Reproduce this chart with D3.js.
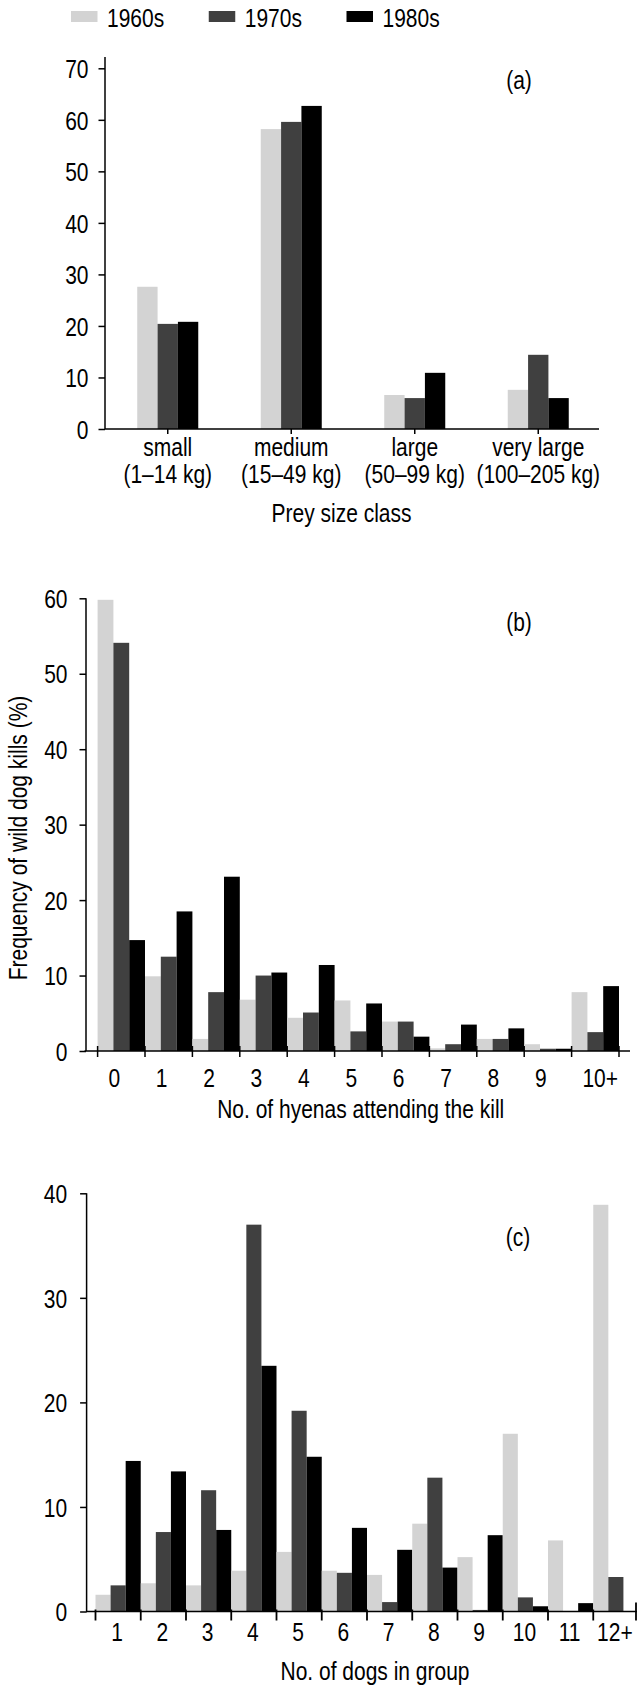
<!DOCTYPE html>
<html>
<head>
<meta charset="utf-8">
<script src="https://cdn.jsdelivr.net/npm/d3@7"></script>
<style>
  body { margin: 0; background: #fff; }
  svg { display: block; }
  text { fill: #000; }
</style>
</head>
<body>
<div id="chart"></div>
<script>
const decades = ["1960s", "1970s", "1980s"];
const colors = ["#d3d3d3", "#404040", "#000000"];

// (a) prey size class
const preyClasses = ["small", "medium", "large", "very large"];
const preyRanges = ["(1–14 kg)", "(15–49 kg)", "(50–99 kg)", "(100–205 kg)"];
const prey1960s = [27.6, 58.2, 6.6, 7.6];
const prey1970s = [20.4, 59.6, 6.0, 14.4];
const prey1980s = [20.8, 62.7, 10.9, 6.0];
const preyTicks = [0, 10, 20, 30, 40, 50, 60, 70];

// (b) hyenas attending the kill
const hyenaLabels = ["0", "1", "2", "3", "4", "5", "6", "7", "8", "9", "10+"];
const hyena1960s = [59.8, 9.9, 1.6, 6.8, 4.4, 6.7, 3.9, 0.35, 1.6, 0.9, 7.8];
const hyena1970s = [54.1, 12.5, 7.8, 10.0, 5.1, 2.6, 3.9, 0.9, 1.6, 0.3, 2.5];
const hyena1980s = [14.7, 18.5, 23.1, 10.4, 11.4, 6.3, 1.9, 3.5, 3.0, 0.3, 8.6];
const hyenaTicks = [0, 10, 20, 30, 40, 50, 60];

// (c) dogs in group
const dogLabels = ["1", "2", "3", "4", "5", "6", "7", "8", "9", "10", "11", "12+"];
const dog1960s = [1.6, 2.7, 2.5, 3.9, 5.7, 3.9, 3.5, 8.4, 5.2, 17.0, 6.8, 38.9];
const dog1970s = [2.5, 7.6, 11.6, 37.0, 19.2, 3.7, 0.9, 12.8, 0.15, 1.35, 0, 3.3];
const dog1980s = [14.4, 13.4, 7.8, 23.5, 14.8, 8.0, 5.9, 4.2, 7.3, 0.5, 0.8, 0];
const dogTicks = [0, 10, 20, 30, 40];

const width = 637;
const height = 1685;

// the original type is a narrow Helvetica: tall glyphs, Arial-21px widths
const fontSize = 25.6;
const squeeze = 21 / fontSize;

const svg = d3
  .select("#chart")
  .append("svg")
  .attr("width", width)
  .attr("height", height)
  .attr("font-family", '"Liberation Sans", Arial, Helvetica, sans-serif')
  .attr("font-size", fontSize);

// legend
const legendX = d3.scalePoint().domain(decades).range([71, 346.5]);
const legend = svg.append("g").attr("class", "legend");
legend
  .selectAll("rect")
  .data(decades)
  .join("rect")
  .attr("x", (d) => legendX(d))
  .attr("y", 11)
  .attr("width", 26.5)
  .attr("height", 11)
  .attr("fill", (d, i) => colors[i]);
legend
  .selectAll("text")
  .data(decades)
  .join("text")
  .attr("x", (d) => legendX(d) + 36)
  .attr("y", 26.5)
  .text((d) => d);

function seriesRows(cats, s1, s2, s3) {
  return cats.map((c, i) => ({ cat: c, values: [s1[i], s2[i], s3[i]] }));
}

function drawBars(g, rows, x0, x1, y) {
  g.append("g")
    .selectAll("g")
    .data(rows)
    .join("g")
    .attr("transform", (d) => `translate(${x0(d.cat)},0)`)
    .selectAll("rect")
    .data((d) => d.values.map((v, i) => ({ key: decades[i], v, i })))
    .join("rect")
    .attr("x", (d) => x1(d.key))
    .attr("width", x1.bandwidth())
    .attr("y", (d) => y(d.v))
    .attr("height", (d) => y(0) - y(d.v))
    .attr("fill", (d) => colors[d.i]);
}

function drawYAxis(g, y, ticks, axisX, top, padding) {
  const ax = g
    .append("g")
    .attr("transform", `translate(${axisX},0)`)
    .call(d3.axisLeft(y).tickValues(ticks).tickSize(6.5).tickPadding(padding));
  ax.attr("font-size", null).attr("font-family", null);
  ax.select(".domain").remove();
  ax.selectAll(".tick line").attr("stroke", "#000").attr("stroke-width", 1.5);
  ax.selectAll(".tick text").attr("dy", "0.36em");
  g.append("line")
    .attr("x1", axisX)
    .attr("x2", axisX)
    .attr("y1", top)
    .attr("y2", y(0))
    .attr("stroke", "#000")
    .attr("stroke-width", 1.5);
}

function drawXLine(g, y0, x1, x2) {
  g.append("line")
    .attr("x1", x1)
    .attr("x2", x2)
    .attr("y1", y0)
    .attr("y2", y0)
    .attr("stroke", "#000")
    .attr("stroke-width", 1.5);
}

// ---------- (a) ----------
const ga = svg.append("g").attr("class", "panel-a");
const ya = d3.scaleLinear().domain([0, 70]).range([429, 68.3]);
const xa = d3.scaleBand().domain(preyClasses).range([106, 600]);
const groupW = xa.bandwidth() * 0.494;
const xa1 = d3
  .scaleBand()
  .domain(decades)
  .range([(xa.bandwidth() - groupW) / 2, (xa.bandwidth() + groupW) / 2]);

drawBars(ga, seriesRows(preyClasses, prey1960s, prey1970s, prey1980s), xa, xa1, ya);
drawYAxis(ga, ya, preyTicks, 105, 57, 10);
drawXLine(ga, ya(0), 105, 599);

ga.append("g")
  .selectAll("line")
  .data(preyClasses)
  .join("line")
  .attr("x1", (d) => xa(d) + xa.bandwidth() / 2)
  .attr("x2", (d) => xa(d) + xa.bandwidth() / 2)
  .attr("y1", ya(0))
  .attr("y2", ya(0) + 5)
  .attr("stroke", "#000")
  .attr("stroke-width", 1.5);

// two-line category labels
const preyLab = ga
  .append("g")
  .attr("text-anchor", "middle")
  .selectAll("text")
  .data(preyClasses)
  .join("text")
  .attr("x", (d) => xa(d) + xa.bandwidth() / 2)
  .attr("y", 455.5);
preyLab.append("tspan").attr("x", 0).text((d) => d);
preyLab
  .append("tspan")
  .attr("x", 0)
  .attr("dy", 28)
  .text((d, i) => preyRanges[i]);

ga.append("text")
  .attr("x", 341.5)
  .attr("y", 522)
  .attr("text-anchor", "middle")
  .text("Prey size class");
ga.append("text").attr("x", 519).attr("y", 89).attr("text-anchor", "middle").text("(a)");

// ---------- (b) ----------
const gb = svg.append("g").attr("class", "panel-b");
const yb = d3.scaleLinear().domain([0, 60]).range([1051, 598.3]);
const xb = d3.scaleBand().domain(hyenaLabels).range([97.6, 619]);
const xb1 = d3.scaleBand().domain(decades).range([0, xb.bandwidth()]);

drawBars(gb, seriesRows(hyenaLabels, hyena1960s, hyena1970s, hyena1980s), xb, xb1, yb);
drawYAxis(gb, yb, hyenaTicks, 86, yb(60), 12);
drawXLine(gb, yb(0), 84.5, 630);

const hyenaEdges = hyenaLabels.map((d) => xb(d)).concat([xb.range()[1]]);
gb.append("g")
  .selectAll("line")
  .data(hyenaEdges)
  .join("line")
  .attr("x1", (d) => d)
  .attr("x2", (d) => d)
  .attr("y1", yb(0) - 5)
  .attr("y2", yb(0) + 6)
  .attr("stroke", "#000")
  .attr("stroke-width", 1.5);

gb.append("g")
  .selectAll("text")
  .data(hyenaLabels)
  .join("text")
  .attr("x", (d) => xb(d) + xb.bandwidth() * 0.35 - 5.8)
  .attr("y", 1087)
  .text((d) => d);

gb.append("text")
  .attr("x", 360.7)
  .attr("y", 1117.5)
  .attr("text-anchor", "middle")
  .text("No. of hyenas attending the kill");
gb.append("text").attr("x", 519).attr("y", 631).attr("text-anchor", "middle").text("(b)");

// shared y title
svg
  .append("text")
  .attr("transform", "translate(27,838) rotate(-90)")
  .attr("text-anchor", "middle")
  .text("Frequency of wild dog kills (%)");

// ---------- (c) ----------
const gc = svg.append("g").attr("class", "panel-c");
const yc = d3.scaleLinear().domain([0, 40]).range([1611.5, 1193.3]);
const xc = d3.scaleBand().domain(dogLabels).range([95.5, 638.5]);
const xc1 = d3.scaleBand().domain(decades).range([0, xc.bandwidth()]);

drawBars(gc, seriesRows(dogLabels, dog1960s, dog1970s, dog1980s), xc, xc1, yc);
drawYAxis(gc, yc, dogTicks, 86.6, yc(40), 13);
drawXLine(gc, yc(0), 86, 637);

const dogEdges = dogLabels.map((d) => xc(d)).concat([xc.range()[1] - 2.5]);
gc.append("g")
  .selectAll("line")
  .data(dogEdges)
  .join("line")
  .attr("x1", (d) => d)
  .attr("x2", (d) => d)
  .attr("y1", (d, i) => yc(0) - (i === dogLabels.length ? 9 : 2))
  .attr("y2", yc(0) + 9)
  .attr("stroke", "#000")
  .attr("stroke-width", 1.8);

gc.append("g")
  .selectAll("text")
  .data(dogLabels)
  .join("text")
  .attr("x", (d) => xc(d) + xc.bandwidth() / 2 - 1)
  .attr("y", 1640.5)
  .attr("text-anchor", "middle")
  .text((d) => d);

gc.append("text")
  .attr("x", 375)
  .attr("y", 1679.5)
  .attr("text-anchor", "middle")
  .text("No. of dogs in group");
gc.append("text").attr("x", 518).attr("y", 1246).attr("text-anchor", "middle").text("(c)");

// narrow the type: move each text's anchor into its transform and squeeze x
svg.selectAll("text").each(function () {
  const t = d3.select(this);
  const x = +t.attr("x") || 0;
  const y = +t.attr("y") || 0;
  const tr = t.attr("transform") || "";
  t.attr("x", null)
    .attr("y", null)
    .attr("transform", `${tr} translate(${x},${y}) scale(${squeeze},1)`);
});
</script>
</body>
</html>
